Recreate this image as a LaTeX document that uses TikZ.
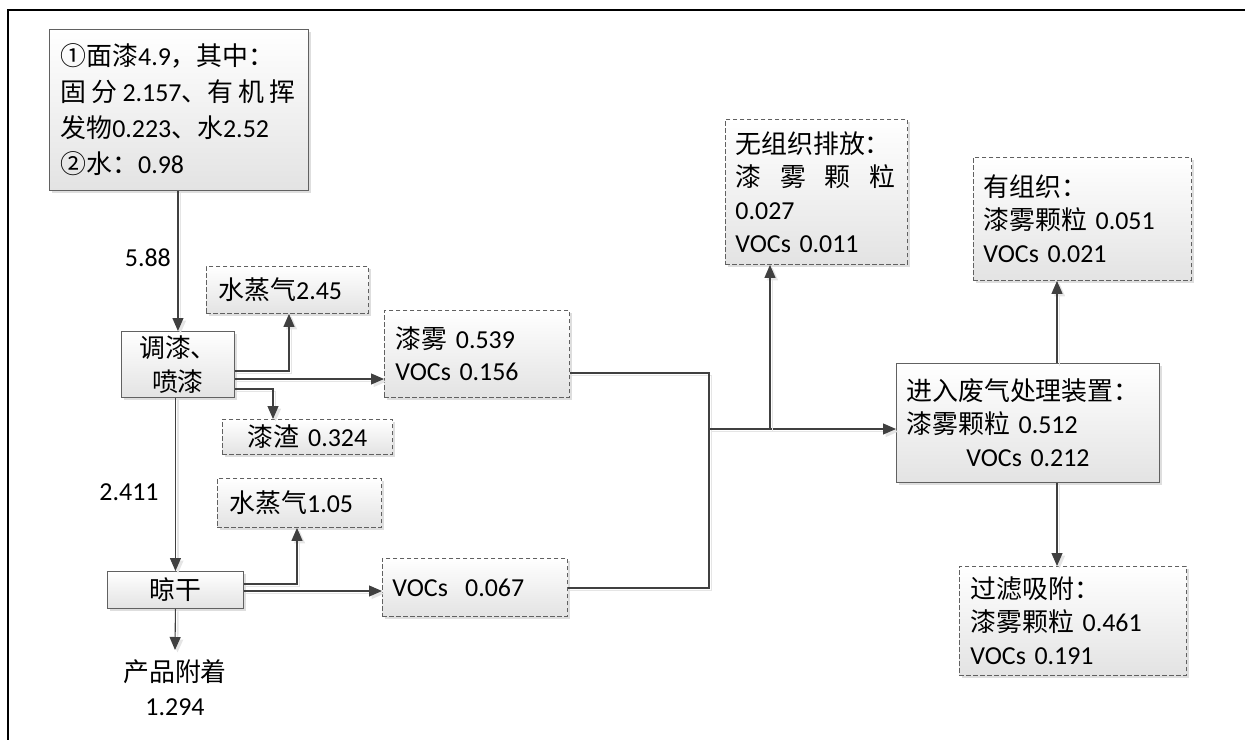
\documentclass[tikz,border=0pt]{standalone}
\usepackage{fontspec}
\setmainfont{Carlito}
\newfontfamily\cjk{Noto Sans CJK SC}
\usetikzlibrary{arrows.meta,calc,shadows}
\newcommand\zh[1]{{\cjk #1}}
\tikzset{
  box/.style={draw=black!62, line width=0.9bp, top color=white, bottom color=black!11,
    inner ysep=0pt, anchor=north west, align=left, text=black,
    drop shadow={shadow xshift=3bp, shadow yshift=-3bp, fill=black!13, opacity=1},
    font=\fontsize{26}{33}\selectfont},
  dbox/.style={box, dash pattern=on 4.5bp off 2.5bp},
  conn/.style={draw=black!75, line width=1.1bp,
    preaction={draw=black!10, line width=1.6bp, transform canvas={xshift=2.5bp, yshift=-2.5bp}}},
  arr/.style={conn, -{Triangle[length=13bp,width=11bp]}},
  lbl/.style={inner sep=0pt, text=black, font=\fontsize{26}{35}\selectfont, align=center}
}
\begin{document}
\begin{tikzpicture}[x=1bp,y=-1bp]
\useasboundingbox (0,0) rectangle (1245,740);
% frame
\draw[line width=2.2bp] (8,740) -- (8,10) -- (1245,10);

% nodes
\node[box, minimum width=259bp, minimum height=161bp, inner xsep=11bp, text width=237bp,
      font=\fontsize{26}{36}\selectfont] (A) at (49,29)
  {\zh{①面漆}4.9\zh{，其中：}\\
   \leavevmode\hbox to 235bp{\zh{固}\hfil\zh{分}\hfil2.157\zh{、}\zh{有}\hfil\zh{机}\hfil\zh{挥}}\\
   \zh{发物}0.223\zh{、水}2.52\\
   \zh{②水：}0.98};
\node[box, minimum width=113bp, minimum height=66bp, inner xsep=0pt, text width=113bp,
      align=center, font=\fontsize{26}{34}\selectfont] (B) at (121,331)
  {\zh{调漆、}\\\zh{喷漆}};
\node[dbox, minimum width=162bp, minimum height=47bp, inner xsep=12bp, text width=138bp] (W1) at (206,266)
  {\zh{水蒸气}2.45};
\node[dbox, minimum width=170bp, minimum height=35bp, inner xsep=0pt, text width=170bp, align=center] (Z) at (222,419)
  {\zh{漆渣} 0.324};
\node[box, minimum width=136bp, minimum height=37bp, inner xsep=0pt, text width=136bp, align=center] (D) at (107,571)
  {\zh{晾干}};
\node[dbox, minimum width=164bp, minimum height=49bp, inner xsep=12bp, text width=140bp] (W2) at (217,478)
  {\zh{水蒸气}1.05};
\node[dbox, minimum width=185bp, minimum height=87bp, inner xsep=11bp, text width=163bp,
      font=\fontsize{26}{32}\selectfont] (M) at (384,310)
  {\zh{漆雾} 0.539\\VOCs 0.156};
\node[dbox, minimum width=185bp, minimum height=58bp, inner xsep=10bp, text width=165bp] (V) at (382,558)
  {VOCs\ \ 0.067};
\node[dbox, minimum width=182bp, minimum height=145bp, inner xsep=10bp, text width=162bp] (U) at (725,119)
  {\zh{无组织排放：}\\
   \leavevmode\hbox to 160bp{\zh{漆}\hfil\zh{雾}\hfil\zh{颗}\hfil\zh{粒}}\\
   0.027\\
   VOCs 0.011};
\node[dbox, minimum width=218bp, minimum height=123bp, inner xsep=10bp, text width=198bp] (O) at (973,157)
  {\zh{有组织：}\\\zh{漆雾颗粒} 0.051\\VOCs 0.021};
\node[box, minimum width=263bp, minimum height=119bp, inner xsep=10bp, text width=243bp] (T) at (896,363)
  {\zh{进入废气处理装置：}\\\zh{漆雾颗粒} 0.512\\\hspace*{60bp}VOCs 0.212};
\node[dbox, minimum width=227bp, minimum height=109bp, inner xsep=11bp, text width=205bp] (F) at (959,566)
  {\zh{过滤吸附：}\\\zh{漆雾颗粒} 0.461\\VOCs 0.191};

% labels
\node[lbl, anchor=east] (L1) at (171,258) {5.88};
\node[lbl] (L2) at (129,492) {2.411};
\node[lbl, anchor=north, inner ysep=9bp] (P) at (175,650) {\zh{产品附着}\\1.294};

% junction coordinates
\coordinate (J) at (709,429);
\coordinate (K) at (770,429);

% connectors
\draw[arr] (B.north |- A.south) -- (B.north);
\draw[arr] ($(B.north east)+(0,40)$) -| ($(W1.south west)+(83,0)$);
\path ($(B.north east)+(0,48)$) coordinate (b2);
\draw[arr] (b2) -- (b2 -| M.west);
\draw[arr] ($(B.north east)+(0,58)$) -| ($(Z.north west)+(51,0)$);
\draw[arr] (D.north |- B.south) -- (D.north);
\draw[arr] (D.south) -- (P.north);
\draw[arr] ($(D.north east)+(0,13)$) -| ($(W2.south west)+(80,0)$);
\path ($(D.north east)+(0,20)$) coordinate (d2);
\draw[arr] (d2) -- (d2 -| V.west);
\draw[conn] ($(M.north east)+(0,63)$) -| (J);
\draw[conn] ($(V.north east)+(0,30)$) -| (J);
\draw[arr] (J) -- (J -| T.west);
\draw[arr] (K) -- (K |- U.south);
\path ($(T.north west)+(161,0)$) coordinate (t1);
\draw[arr] (t1) -- (t1 |- O.south);
\path ($(T.south west)+(161,0)$) coordinate (t2);
\draw[arr] (t2) -- (t2 |- F.north);
\end{tikzpicture}
\end{document}
